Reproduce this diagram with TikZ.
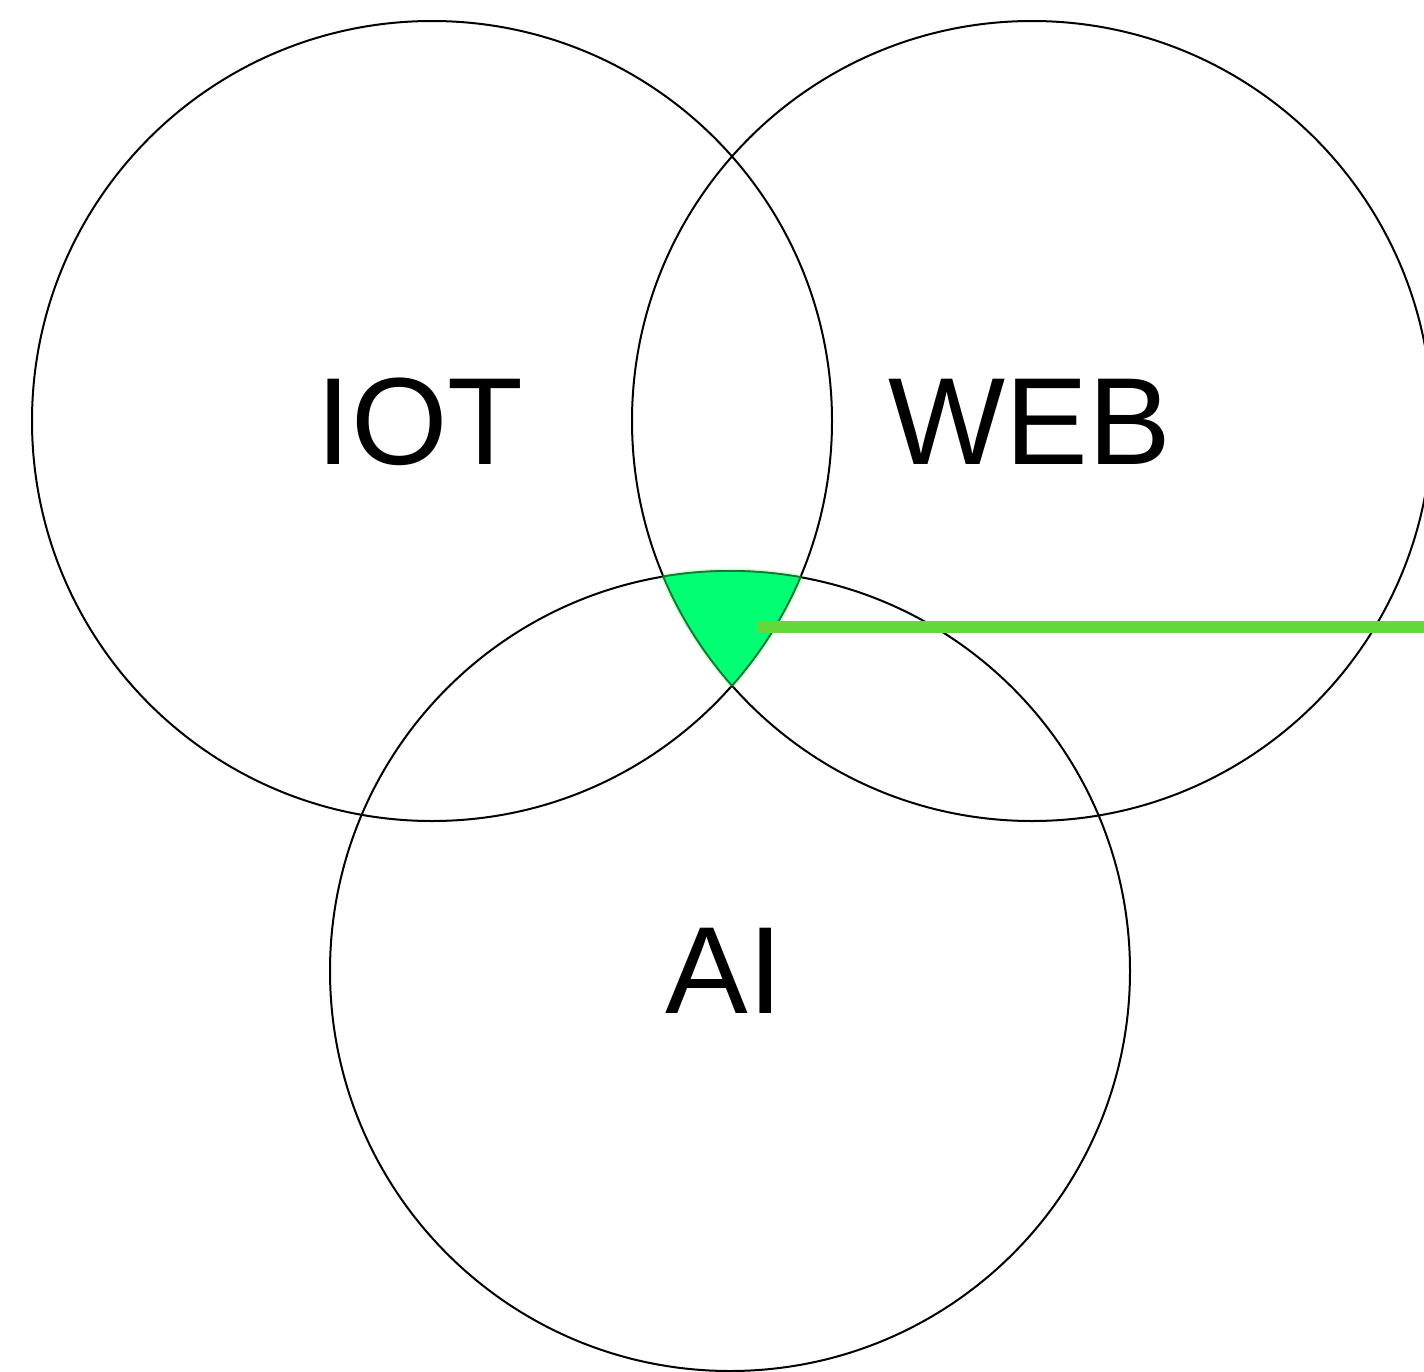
\documentclass[tikz,border=0pt]{standalone}
\usepackage{fontspec}
\setmainfont{Liberation Sans}
\begin{document}
\begin{tikzpicture}[x=1pt,y=-1pt,
  setcircle/.style={circle, draw=black, line width=2pt, minimum size=800pt, inner sep=0pt},
  setname/.style={inner sep=0pt, font=\fontsize{124}{124}\selectfont},
  coreglow/.style={draw=green!60!white, line width=5pt, opacity=0.35},
  coreline/.style={draw=coreedge, line width=1.6pt},
  pointer/.style={draw={rgb,255:red,98;green,216;blue,58}, line width=12.5pt}]
\useasboundingbox (0,0) rectangle (1424,1371);
\definecolor{corefill}{RGB}{0,255,115}
\definecolor{coreedge}{RGB}{20,120,60}

% the three sets
\node[setcircle] (iot) at (432,421) {};
\node[setcircle] (web) at (1032,421) {};
\node[setcircle] (ai)  at (730,971) {};
\node[setname] (iotname) at (420,422) {IOT};
\node[setname] (webname) at (1030,422) {WEB};
\node[setname] (ainame)  at (724,971) {AI};

% soft halo around the common region
\begin{scope}
  \clip (web.center) circle (400); \clip (ai.center) circle (400);
  \draw[coreglow] (iot.center) circle (400);
\end{scope}
\begin{scope}
  \clip (iot.center) circle (400); \clip (ai.center) circle (400);
  \draw[coreglow] (web.center) circle (400);
\end{scope}
\begin{scope}
  \clip (iot.center) circle (400); \clip (web.center) circle (400);
  \draw[coreglow] (ai.center) circle (400);
\end{scope}

% region shared by all three sets
\begin{scope}
  \clip (iot.center) circle (400);
  \clip (web.center) circle (400);
  \fill[corefill] (ai.center) circle (400);
\end{scope}

% its outline
\begin{scope}
  \clip (web.center) circle (400); \clip (ai.center) circle (400);
  \draw[coreline] (iot.center) circle (400);
\end{scope}
\begin{scope}
  \clip (iot.center) circle (400); \clip (ai.center) circle (400);
  \draw[coreline] (web.center) circle (400);
\end{scope}
\begin{scope}
  \clip (iot.center) circle (400); \clip (web.center) circle (400);
  \draw[coreline] (ai.center) circle (400);
\end{scope}

% pointer leaving the common region
\coordinate (core) at (757,627);
\coordinate (edge) at (1424,627);
\draw[pointer] (core) -- (edge);
\end{tikzpicture}
\end{document}
